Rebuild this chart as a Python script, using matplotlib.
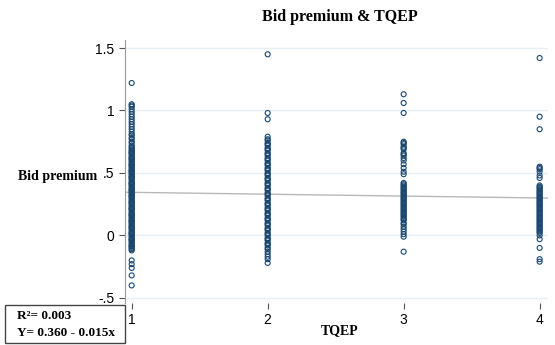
import matplotlib.pyplot as plt
from matplotlib.patches import Rectangle

# values, one list per TQEP level
tqep_levels = [1, 2, 3, 4]
premium_1 = [1.22, 1.05, 1.04, 1.03, 1.01, 0.99, 0.97, 0.95, 0.93, 0.91, 0.89, 0.87,
             0.85, 0.83, 0.81, 0.80, 0.78, 0.77, 0.75, 0.74, 0.72, 0.71, 0.70, 0.69,
             0.68, 0.67, 0.66, 0.65, 0.64, 0.63, 0.62, 0.61, 0.60, 0.59, 0.58, 0.57,
             0.56, 0.55, 0.54, 0.53, 0.52, 0.51, 0.50, 0.49, 0.48, 0.47, 0.46, 0.45,
             0.44, 0.43, 0.42, 0.41, 0.40, 0.39, 0.38, 0.37, 0.36, 0.35, 0.34, 0.33,
             0.32, 0.31, 0.30, 0.29, 0.28, 0.27, 0.26, 0.25, 0.24, 0.23, 0.22, 0.21,
             0.20, 0.19, 0.18, 0.17, 0.16, 0.15, 0.14, 0.13, 0.12, 0.11, 0.10, 0.09,
             0.08, 0.07, 0.06, 0.05, 0.04, 0.03, 0.02, 0.01, 0.00, -0.01, -0.02, -0.03,
             -0.04, -0.05, -0.06, -0.07, -0.08, -0.09, -0.10, -0.11, -0.12,
             -0.20, -0.23, -0.26, -0.32, -0.40,
             0.665, 0.615, 0.565, 0.515, 0.465, 0.415, 0.365, 0.315, 0.265, 0.215,
             0.165, 0.115, 0.065, 0.015, -0.035, -0.085]
premium_2 = [1.45, 0.98, 0.93, 0.79, 0.77, 0.76, 0.74, 0.73, 0.72, 0.70, 0.69, 0.68,
             0.66, 0.65, 0.64, 0.62, 0.61, 0.60, 0.58, 0.57, 0.56, 0.54, 0.53, 0.52,
             0.50, 0.49, 0.48, 0.46, 0.45, 0.44, 0.42, 0.41, 0.40, 0.38, 0.37, 0.36,
             0.34, 0.33, 0.32, 0.30, 0.29, 0.28, 0.26, 0.25, 0.24, 0.22, 0.21, 0.20,
             0.18, 0.17, 0.16, 0.14, 0.13, 0.12, 0.10, 0.09, 0.08, 0.06, 0.05, 0.04,
             0.02, 0.01, 0.00, -0.02, -0.03, -0.04, -0.06, -0.07, -0.08, -0.10,
             -0.11, -0.13, -0.15, -0.17, -0.19, -0.22]
premium_3 = [1.13, 1.06, 0.98, 0.75, 0.74, 0.73, 0.71, 0.70, 0.69, 0.66, 0.65, 0.64,
             0.62, 0.60, 0.57, 0.54, 0.51, 0.49, 0.42, 0.41, 0.40, 0.39, 0.38, 0.37,
             0.36, 0.35, 0.34, 0.33, 0.32, 0.31, 0.30, 0.29, 0.28, 0.27, 0.26, 0.25,
             0.24, 0.23, 0.22, 0.21, 0.20, 0.19, 0.18, 0.17, 0.16, 0.15, 0.14, 0.13,
             0.12, 0.10, 0.09, 0.07, 0.05, 0.03, 0.01, -0.01, -0.13]
premium_4 = [1.42, 0.95, 0.85, 0.55, 0.54, 0.53, 0.51, 0.48, 0.46, 0.40, 0.39, 0.38,
             0.37, 0.36, 0.35, 0.34, 0.33, 0.32, 0.31, 0.30, 0.29, 0.28, 0.27, 0.26,
             0.25, 0.24, 0.23, 0.22, 0.21, 0.20, 0.19, 0.18, 0.17, 0.16, 0.15, 0.14,
             0.13, 0.12, 0.11, 0.10, 0.09, 0.08, 0.07, 0.06, 0.05, 0.04, 0.03, 0.02,
             0.00, -0.03, -0.10, -0.19, -0.21]
groups = [premium_1, premium_2, premium_3, premium_4]

intercept = 0.360
slope = -0.015
r2 = 0.003

yticks = [-0.5, 0, 0.5, 1, 1.5]
ytick_labels = ["-.5", "0", ".5", "1", "1.5"]

navy = "#1a476f"
serif = ["Liberation Serif", "DejaVu Serif"]
sans = ["Liberation Sans", "DejaVu Sans"]

fig = plt.figure(figsize=(5.55, 3.45), dpi=100)
ax = fig.add_axes([0.225, 0.122, 0.762, 0.762])

for lvl, vals in zip(tqep_levels, groups):
    ax.scatter([lvl] * len(vals), vals, s=13, facecolors="none",
               edgecolors=navy, linewidths=0.8, zorder=3)

ax.set_xlim(0.95, 4.06)
ax.set_ylim(-0.54, 1.564)
xs = list(ax.get_xlim())
ax.plot(xs, [intercept + slope * x for x in xs], color="#b8b8b8", lw=1, zorder=2)

ax.set_yticks(yticks)
ax.set_yticklabels(ytick_labels, family=sans, fontsize=10)
ax.set_xticks(tqep_levels)
ax.set_xticklabels([str(t) for t in tqep_levels], family=sans, fontsize=10)
ax.grid(axis="y", color="#e6eff3", lw=1, zorder=0)
for s in ["top", "right", "bottom"]:
    ax.spines[s].set_visible(False)
ax.spines["left"].set_color("#9a9a9a")
ax.tick_params(axis="both", colors="#555555", labelcolor="black", length=4, width=0.8)

fig.text(0.612, 0.95, "Bid premium & TQEP", family=serif, weight="bold",
         fontsize=11.5, ha="center", va="center")
fig.text(0.032, 0.487, "Bid premium", family=serif, weight="bold",
         fontsize=10, ha="left", va="center")
fig.text(0.612, 0.043, "TQEP", family=serif, weight="bold",
         fontsize=10, ha="center", va="center")

fig.patches.append(Rectangle((0.009, 0.006), 0.216, 0.11, transform=fig.transFigure,
                             fill=False, edgecolor="#444444", lw=1))
fig.text(0.03, 0.085, "R²= %.3f" % r2, family=serif, weight="bold",
         fontsize=9.5, ha="left", va="center")
fig.text(0.03, 0.035, "Y= %.3f - %.3fx" % (intercept, abs(slope)), family=serif,
         weight="bold", fontsize=9.5, ha="left", va="center")

fig.savefig("out.png", dpi=100)
